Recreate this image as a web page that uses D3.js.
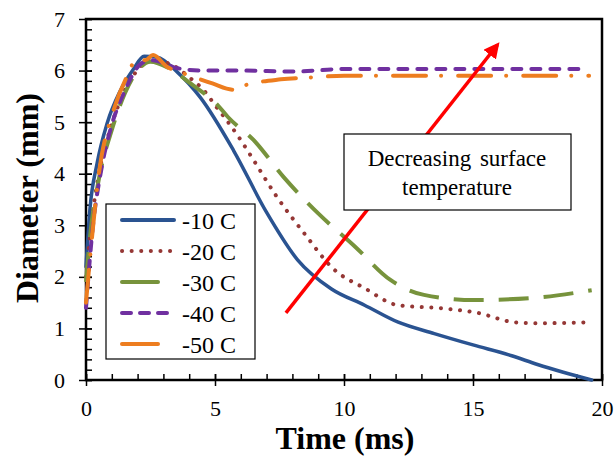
<!DOCTYPE html>
<html>
<head>
<meta charset="utf-8">
<script src="https://cdn.jsdelivr.net/npm/d3@7"></script>
<style>
  body { margin: 0; background: #fff; }
  svg { display: block; }
  svg text { font-family: "Liberation Serif", "Times New Roman", serif; fill: #000; }
</style>
</head>
<body>
<svg id="chart" width="616" height="466"></svg>
<script>
// values (time in ms, diameter in mm)
const time10 = [0, 0.15, 0.43, 0.82, 1.32, 1.83, 2.25, 2.76, 3.54, 4.43, 5.72, 7.0, 8.2, 9.5, 10.8, 12.1, 13.5, 15.0, 16.5, 17.5, 18.5, 19.6];
const diam10 = [2.2, 3.3, 4.2, 4.98, 5.6, 6.02, 6.28, 6.26, 5.97, 5.48, 4.45, 3.25, 2.33, 1.77, 1.45, 1.12, 0.9, 0.68, 0.47, 0.3, 0.15, 0];

const time20 = [0, 0.2, 0.5, 0.9, 1.4, 1.9, 2.5, 3.2, 4.05, 4.63, 5.0, 5.45, 6.0, 6.45, 7.4, 8.45, 9.6, 10.8, 12.1, 13.8, 15.2, 16.6, 17.5, 19.5];
const diam20 = [2.0, 3.0, 4.0, 4.8, 5.5, 5.95, 6.2, 6.14, 5.85, 5.58, 5.33, 5.04, 4.65, 4.3, 3.55, 2.85, 2.15, 1.78, 1.45, 1.39, 1.3, 1.12, 1.1, 1.12];

const time30 = [0, 0.15, 0.5, 1.0, 1.5, 2.0, 2.5, 3.2, 4.05, 5.1, 5.5, 6.5, 7.67, 9.0, 10.4, 11.8, 13.1, 15.06, 17.3, 19.6];
const diam30 = [1.9, 2.75, 3.9, 4.85, 5.55, 6.0, 6.17, 6.05, 5.75, 5.33, 5.1, 4.65, 3.93, 3.23, 2.6, 1.94, 1.65, 1.55, 1.59, 1.74];

const time40 = [0, 0.25, 0.6, 1.0, 1.5, 2.1, 2.5, 3.0, 3.5, 4.5, 6.0, 8.0, 10.0, 14.0, 19.4];
const diam40 = [1.4, 2.9, 4.1, 4.95, 5.6, 6.12, 6.2, 6.15, 6.05, 6.0, 6.0, 5.98, 6.03, 6.03, 6.03];

const time50 = [0, 0.2, 0.5, 1.05, 1.6, 2.0, 2.3, 2.6, 3.15, 3.66, 4.9, 5.7, 6.2, 7.55, 8.8, 10.0, 19.5];
const diam50 = [1.5, 2.6, 4.0, 5.2, 5.9, 6.25, 6.2, 6.3, 6.07, 5.97, 5.75, 5.63, 5.72, 5.83, 5.87, 5.9, 5.9];

const seriesNames = ["-10 C", "-20 C", "-30 C", "-40 C", "-50 C"];
const xTicks = [0, 5, 10, 15, 20];
const yTicks = [0, 1, 2, 3, 4, 5, 6, 7];
const arrowFrom = [7.75, 1.3];
const arrowTo = [15.95, 6.5];
const noteLines = ["Decreasing surface", "temperature"];

const series = [
  { name: seriesNames[0], t: time10, d: diam10, color: "#2A5391", dash: null, legendDash: null, cap: "round" },
  { name: seriesNames[1], t: time20, d: diam20, color: "#953735", dash: "0.1,9.5", legendDash: "0.1,9.5", cap: "round" },
  { name: seriesNames[2], t: time30, d: diam30, color: "#77933C", dash: "30,15", legendDash: "36,16,0.1,30", cap: "butt" },
  { name: seriesNames[3], t: time40, d: diam40, color: "#7030A0", dash: "9,10", legendDash: "9,9", cap: "round" },
  { name: seriesNames[4], t: time50, d: diam50, color: "#ED7D1F", dash: "33,15,0.1,17", legendDash: "36,16,0.1,30", cap: "round" }
];

const svg = d3.select("#chart");
const x = d3.scaleLinear().domain([0, 20]).range([86, 602]);
const y = d3.scaleLinear().domain([0, 7]).range([380, 19]);
const serif = "Liberation Serif";

// x axis: minor ticks inside, major ticks crossing
svg.append("g")
  .attr("transform", "translate(0,380)")
  .call(d3.axisTop(x).tickValues(d3.range(0, 21, 1)).tickSize(6).tickFormat(""))
  .call(g => g.select(".domain").remove())
  .call(g => g.selectAll("line").attr("stroke", "#000").attr("stroke-width", 1.5));

svg.append("g")
  .attr("transform", "translate(0,380)")
  .attr("font-family", serif)
  .call(d3.axisBottom(x).tickValues(xTicks).tickSize(6).tickPadding(14).tickFormat(d3.format("d")))
  .call(g => g.select(".domain").remove())
  .call(g => g.selectAll("line").attr("y1", -6).attr("stroke", "#000").attr("stroke-width", 1.5))
  .call(g => g.selectAll("text").attr("font-size", 22).attr("font-family", serif));

// y axis
svg.append("g")
  .attr("transform", "translate(86,0)")
  .call(d3.axisRight(y).tickValues(d3.range(0, 7.01, 0.2)).tickSize(6).tickFormat(""))
  .call(g => g.select(".domain").remove())
  .call(g => g.selectAll("line").attr("stroke", "#000").attr("stroke-width", 1.5));

svg.append("g")
  .attr("transform", "translate(86,0)")
  .call(d3.axisLeft(y).tickValues(yTicks).tickSize(7).tickPadding(14).tickFormat(d3.format("d")))
  .attr("font-family", serif)
  .call(g => g.select(".domain").remove())
  .call(g => g.selectAll("line").attr("x1", 6).attr("stroke", "#000").attr("stroke-width", 1.5))
  .call(g => g.selectAll("text").attr("font-size", 22).attr("font-family", serif));

// plot frame
svg.append("rect")
  .attr("x", x(0)).attr("y", y(7))
  .attr("width", x(20) - x(0)).attr("height", y(0) - y(7))
  .attr("fill", "none").attr("stroke", "#000").attr("stroke-width", 2.5);

// curves
const line = d3.line()
  .x(p => x(p[0]))
  .y(p => y(p[1]))
  .curve(d3.curveMonotoneX);

svg.append("g").selectAll("path")
  .data(series)
  .join("path")
  .attr("d", s => line(s.t.map((t, i) => [t, s.d[i]])))
  .attr("fill", "none")
  .attr("stroke", s => s.color)
  .attr("stroke-width", s => s.dash ? 4 : 3.5)
  .attr("stroke-dasharray", s => s.dash)
  .attr("stroke-linecap", s => s.cap)
  .attr("stroke-linejoin", "round");

// arrow
svg.append("defs").append("marker")
  .attr("id", "head")
  .attr("viewBox", "0 0 10 10")
  .attr("refX", 8).attr("refY", 5)
  .attr("markerWidth", 4.5).attr("markerHeight", 4.5)
  .attr("orient", "auto")
  .append("path")
  .attr("d", "M0,0L10,5L0,10Z")
  .attr("fill", "#FF0000");

svg.append("line")
  .attr("x1", x(arrowFrom[0])).attr("y1", y(arrowFrom[1]))
  .attr("x2", x(arrowTo[0])).attr("y2", y(arrowTo[1]))
  .attr("stroke", "#FF0000").attr("stroke-width", 3.5)
  .attr("marker-end", "url(#head)");

// annotation box
const note = svg.append("g");
note.append("rect")
  .attr("x", 344).attr("y", 134).attr("width", 227).attr("height", 76)
  .attr("fill", "#fff").attr("stroke", "#000").attr("stroke-width", 1.2);
note.selectAll("text")
  .data(noteLines)
  .join("text")
  .attr("x", 457)
  .attr("y", (d, i) => 166 + i * 29)
  .attr("text-anchor", "middle")
  .attr("font-size", 23)
  .attr("font-family", serif)
  .attr("word-spacing", 3)
  .text(d => d);

// legend
const legend = svg.append("g");
legend.append("rect")
  .attr("x", 106).attr("y", 204).attr("width", 149).attr("height", 155)
  .attr("fill", "#fff").attr("stroke", "#000").attr("stroke-width", 1.2);

const item = legend.selectAll("g.item")
  .data(series)
  .join("g")
  .attr("class", "item")
  .attr("transform", (d, i) => `translate(0,${220 + i * 31})`);

item.append("line")
  .attr("x1", 122).attr("x2", 174)
  .attr("stroke", s => s.color)
  .attr("stroke-width", 4)
  .attr("stroke-dasharray", s => s.legendDash)
  .attr("stroke-linecap", s => s.cap === "butt" ? "round" : s.cap);

item.append("text")
  .attr("x", 182).attr("y", 8.5)
  .attr("font-size", 24)
  .attr("font-family", serif)
  .text(s => s.name);

// axis titles
svg.append("text")
  .attr("x", 345).attr("y", 449)
  .attr("text-anchor", "middle")
  .attr("font-size", 32).attr("font-weight", "bold")
  .attr("font-family", serif)
  .text("Time (ms)");

svg.append("text")
  .attr("transform", "translate(38,198) rotate(-90)")
  .attr("text-anchor", "middle")
  .attr("font-size", 32).attr("font-weight", "bold")
  .attr("font-family", serif)
  .text("Diameter (mm)");
</script>
</body>
</html>
